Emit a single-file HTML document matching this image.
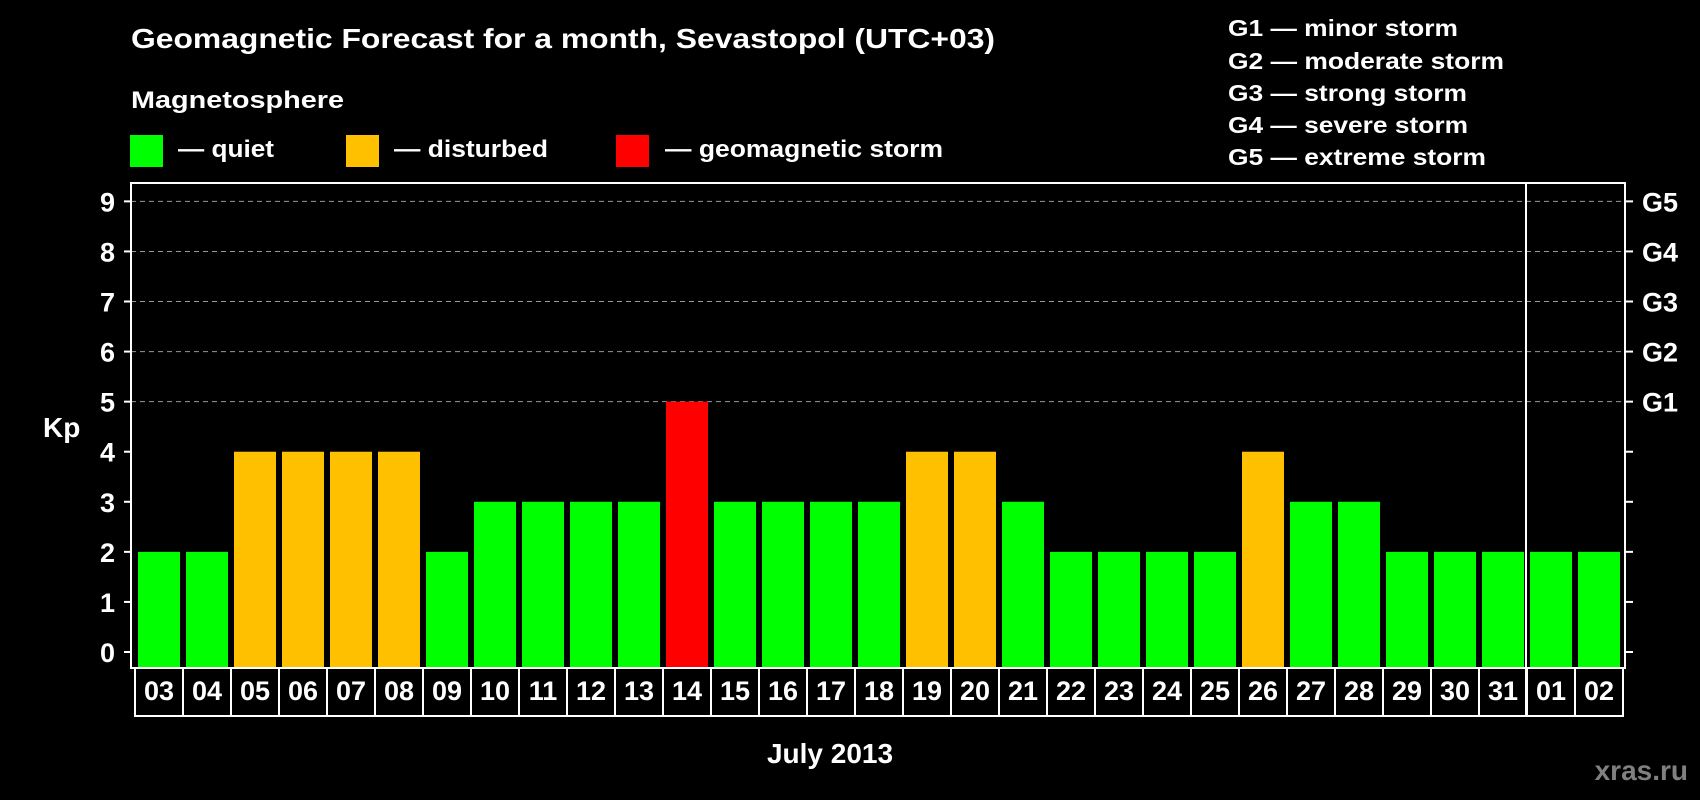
<!DOCTYPE html>
<html><head><meta charset="utf-8"><style>
html,body{margin:0;padding:0;background:#000;}
svg{display:block;font-family:"Liberation Sans",sans-serif;font-weight:bold;}
</style></head><body>
<svg id="c" width="1700" height="800" viewBox="0 0 1700 800">
<text x="131" y="48" fill="#fff" font-size="28" textLength="864" lengthAdjust="spacingAndGlyphs">Geomagnetic Forecast for a month, Sevastopol (UTC+03)</text>
<text x="131" y="108" fill="#fff" font-size="24" textLength="213" lengthAdjust="spacingAndGlyphs">Magnetosphere</text>
<g><rect x="130" y="135" width="33" height="32" fill="#00ff00"/><text x="178" y="157" fill="#fff" font-size="24" textLength="96" lengthAdjust="spacingAndGlyphs">— quiet</text></g>
<g><rect x="346" y="135" width="33" height="32" fill="#ffc000"/><text x="394" y="157" fill="#fff" font-size="24" textLength="154" lengthAdjust="spacingAndGlyphs">— disturbed</text></g>
<g><rect x="616" y="135" width="33" height="32" fill="#ff0000"/><text x="665" y="157" fill="#fff" font-size="24" textLength="278" lengthAdjust="spacingAndGlyphs">— geomagnetic storm</text></g>
<g font-size="23" fill="#fff">
<text x="1228" y="36" textLength="230" lengthAdjust="spacingAndGlyphs">G1 — minor storm</text>
<text x="1228" y="69" textLength="276" lengthAdjust="spacingAndGlyphs">G2 — moderate storm</text>
<text x="1228" y="101" textLength="239" lengthAdjust="spacingAndGlyphs">G3 — strong storm</text>
<text x="1228" y="133" textLength="240" lengthAdjust="spacingAndGlyphs">G4 — severe storm</text>
<text x="1228" y="165" textLength="258" lengthAdjust="spacingAndGlyphs">G5 — extreme storm</text>
</g>
<text x="43" y="437" fill="#fff" font-size="28">Kp</text>
<text x="830" y="763" fill="#fff" font-size="28" text-anchor="middle">July 2013</text>
<text x="1688" y="780" fill="#808080" font-size="28" text-anchor="end">xras.ru</text>
<g id="plot"></g>
</svg>
<script>
const days=["03","04","05","06","07","08","09","10","11","12","13","14","15","16","17","18","19","20","21","22","23","24","25","26","27","28","29","30","31","01","02"];
const kp=[2,2,4,4,4,4,2,3,3,3,3,5,3,3,3,3,4,4,3,2,2,2,2,4,3,3,2,2,2,2,2];
const yTicks=[0,1,2,3,4,5,6,7,8,9];
const gLabels=["G1","G2","G3","G4","G5"];
const gLevels=[5,6,7,8,9];
const NS="http://www.w3.org/2000/svg";
const L=131,R=1625,T=183,B=668,BB=716;
const y=v=>652-v*50.07;
const x0=i=>135+i*48;
const g=document.getElementById('plot');
function mk(t,a,p){const e=document.createElementNS(NS,t);for(const k in a)e.setAttribute(k,a[k]);(p||g).appendChild(e);return e;}
gLevels.forEach(v=>{const l=mk('line',{x1:L,x2:R,y1:y(v),y2:y(v),stroke:'#999','stroke-dasharray':'5,4','stroke-width':1});

});
kp.forEach((v,i)=>{const col=v>=5?'#ff0000':v>=4?'#ffc000':'#00ff00';
const r=mk('rect',{x:x0(i)+3,y:y(v),width:42,height:B-y(v),fill:col});


const b=mk('rect',{x:x0(i),y:B,width:48,height:BB-B,fill:'none',stroke:'#fff','stroke-width':2});


const t=mk('text',{x:x0(i)+24,y:700,fill:'#fff','font-size':27,'text-anchor':'middle'});t.textContent=days[i];

});
const f=mk('rect',{x:L,y:T,width:R-L,height:B-T,fill:'none',stroke:'#fff','stroke-width':2});


const s=mk('line',{x1:x0(29)-1,x2:x0(29)-1,y1:T,y2:BB,stroke:'#fff','stroke-width':2});


yTicks.forEach(v=>{mk('line',{x1:124,x2:L,y1:y(v),y2:y(v),stroke:'#fff','stroke-width':2});
mk('line',{x1:R,x2:1633,y1:y(v),y2:y(v),stroke:'#fff','stroke-width':2});
const t=mk('text',{x:115,y:y(v)+10,fill:'#fff','font-size':27,'text-anchor':'end'});t.textContent=v;

});
gLevels.forEach((v,i)=>{const t=mk('text',{x:1642,y:y(v)+10,fill:'#fff','font-size':27});t.textContent=gLabels[i];

});
</script>
</body></html>
